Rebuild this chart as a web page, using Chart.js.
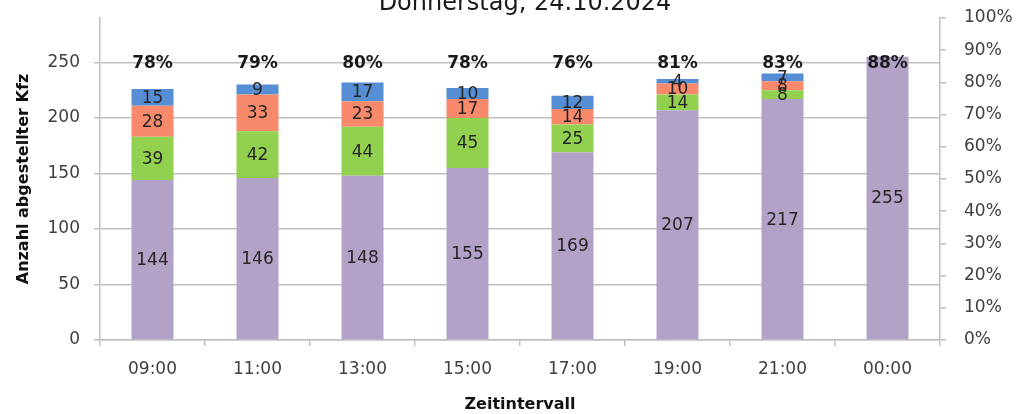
<!DOCTYPE html>
<html lang="de">
<head>
<meta charset="utf-8">
<title>Abgestellte Kfz – Donnerstag, 24.10.2024</title>
<script src="https://cdn.jsdelivr.net/npm/chart.js@4.4.1/dist/chart.umd.min.js"></script>
<style>
  html, body { margin: 0; padding: 0; background: #fff; }
</style>
</head>
<body>
<canvas id="chart" width="1020" height="414"></canvas>
<script>
// Daten
const titel = 'Donnerstag, 24.10.2024';
const zeiten = ['09:00', '11:00', '13:00', '15:00', '17:00', '19:00', '21:00', '00:00'];
const werteLila = [144, 146, 148, 155, 169, 207, 217, 255];
const werteGruen = [39, 42, 44, 45, 25, 14, 8, 0];
const werteOrange = [28, 33, 23, 17, 14, 10, 8, 0];
const werteBlau = [15, 9, 17, 10, 12, 4, 7, 0];
const auslastung = [78, 79, 80, 78, 76, 81, 83, 88]; // Prozent über den Säulen
const linkeTicks = [0, 50, 100, 150, 200, 250];
const rechteTicks = [0, 10, 20, 30, 40, 50, 60, 70, 80, 90, 100];

const grau = '#BFBFBF';
const schrift = 'DejaVu Sans';

// Zahlen mittig in jedes Segment schreiben
const segmentLabels = {
  id: 'segmentLabels',
  afterDatasetsDraw(chart) {
    const ctx = chart.ctx;
    ctx.save();
    ctx.font = '17px "' + schrift + '"';
    ctx.fillStyle = '#262626';
    ctx.textAlign = 'center';
    ctx.textBaseline = 'middle';
    chart.data.datasets.forEach((ds, i) => {
      chart.getDatasetMeta(i).data.forEach((bar, j) => {
        const wert = ds.data[j];
        if (!wert) return;
        ctx.fillText(String(wert), bar.x, (bar.y + bar.base) / 2 + 1);
      });
    });
    ctx.restore();
  }
};

// Prozentwerte oberhalb der Säulen und Titel (oben angeschnitten)
const extraTexte = {
  id: 'extraTexte',
  afterDraw(chart) {
    const ctx = chart.ctx;
    const area = chart.chartArea;
    const yPos = chart.scales.y.getPixelForValue(linkeTicks[linkeTicks.length - 1]);
    const meta = chart.getDatasetMeta(0);
    ctx.save();
    ctx.font = 'bold 17px "' + schrift + '"';
    ctx.fillStyle = '#1a1a1a';
    ctx.textAlign = 'center';
    ctx.textBaseline = 'middle';
    auslastung.forEach((p, j) => {
      ctx.fillText(p + '%', meta.data[j].x, yPos + 1);
    });
    ctx.font = '24px "' + schrift + '"';
    ctx.textBaseline = 'alphabetic';
    ctx.fillText(titel, (area.left + area.right) / 2 + 5, 10);
    ctx.restore();
  }
};

function datensatz(label, werte, farbe) {
  return {
    label: label,
    data: werte,
    backgroundColor: farbe,
    borderWidth: 0,
    barPercentage: 0.5,
    categoryPercentage: 0.8,
    yAxisID: 'y'
  };
}

// feste Breite, ohne Zusatzabstand durch die Beschriftung
function festeBreite(breite) {
  return function (s) {
    s.width = breite;
    s.paddingTop = 0;
    s.paddingBottom = 0;
  };
}

new Chart(document.getElementById('chart'), {
  type: 'bar',
  data: {
    labels: zeiten,
    datasets: [
      datensatz('lila', werteLila, '#B3A2C7'),
      datensatz('grün', werteGruen, '#92D050'),
      datensatz('orange', werteOrange, '#F8896B'),
      datensatz('blau', werteBlau, '#558ED5')
    ]
  },
  options: {
    responsive: false,
    animation: false,
    devicePixelRatio: 1,
    layout: { padding: { top: 18, left: 0, right: 0, bottom: 0 } },
    plugins: {
      legend: { display: false },
      tooltip: { enabled: false }
    },
    scales: {
      x: {
        stacked: true,
        afterFit(s) { s.height = 74; },
        grid: { drawOnChartArea: false, drawTicks: true, tickLength: 6, color: grau, lineWidth: 1.5 },
        border: { color: grau, width: 1.5 },
        ticks: { color: '#404040', font: { family: schrift, size: 17 }, padding: 13, maxRotation: 0 },
        title: {
          display: true, text: 'Zeitintervall', color: '#111',
          font: { family: schrift, size: 16, weight: 'bold' }, padding: { top: 0, bottom: 0 }
        }
      },
      y: {
        stacked: true,
        position: 'left',
        min: 0,
        max: 290,
        afterFit: festeBreite(100),
        afterBuildTicks(s) { s.ticks = linkeTicks.map(v => ({ value: v })); },
        grid: { color: grau, lineWidth: 1.5, tickLength: 6 },
        border: { color: grau, width: 1.5 },
        ticks: { color: '#404040', font: { family: schrift, size: 17 }, padding: 14 },
        title: {
          display: true, text: 'Anzahl abgestellter Kfz', color: '#111',
          font: { family: schrift, size: 16, weight: 'bold' }, padding: { top: 14, bottom: 0 }
        }
      },
      y1: {
        position: 'right',
        min: 0,
        max: 100,
        afterFit: festeBreite(80),
        afterBuildTicks(s) { s.ticks = rechteTicks.map(v => ({ value: v })); },
        grid: { drawOnChartArea: false, tickLength: 6, color: grau, lineWidth: 1.5 },
        border: { color: grau, width: 1.5 },
        ticks: {
          color: '#404040', font: { family: schrift, size: 17 }, padding: 18,
          callback: v => v + '%'
        }
      }
    }
  },
  plugins: [segmentLabels, extraTexte]
});
</script>
</body>
</html>
